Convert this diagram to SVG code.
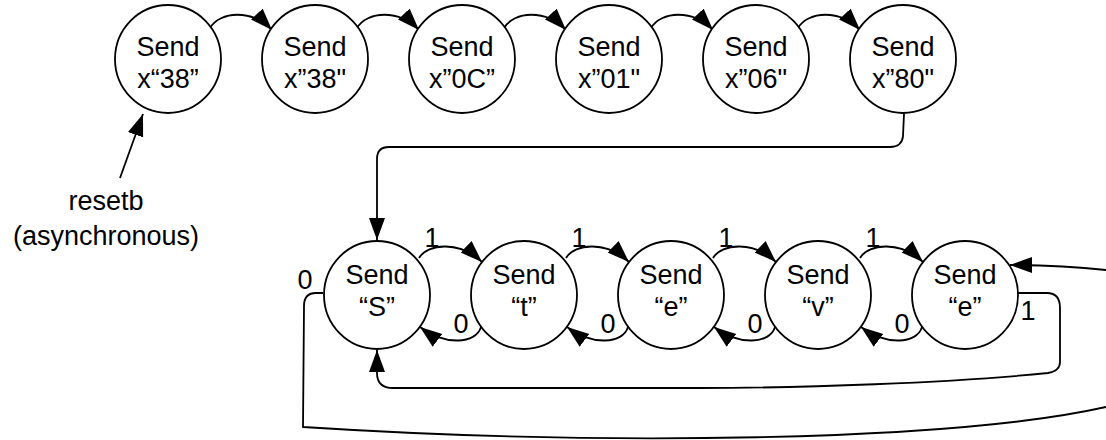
<svg xmlns="http://www.w3.org/2000/svg" width="1106" height="440" viewBox="0 0 1106 440">
<defs>
<marker id="arr" markerUnits="userSpaceOnUse" markerWidth="23" markerHeight="17" refX="22" refY="8" orient="auto">
<path d="M0,0 L22,8 L0,16 z" fill="#000"/>
</marker>
<style>
.st{fill:#fff;stroke:#000;stroke-width:1.8}
.t{font-family:"Liberation Sans",Arial,sans-serif;font-size:27px;fill:#000;text-anchor:middle}
.c{fill:none;stroke:#000;stroke-width:1.8}
.a{marker-end:url(#arr)}
</style>
</defs>
<rect width="1106" height="440" fill="#fff"/>
<g id="connectors">
<path class="c a" d="M210,28 C220,11 252,9 272,30"/>
<path class="c a" d="M357,28 C367,11 399,9 419,30"/>
<path class="c a" d="M504,28 C514,11 546,9 566,30"/>
<path class="c a" d="M651,28 C661,11 693,9 713,30"/>
<path class="c a" d="M798,28 C808,11 840,9 860,30"/>
<path class="c a" d="M120,178 L143,114"/>
<path class="c a" d="M904,114 L903,136 Q902,147 890,147 L389,147 Q377,147 377,159 L377,240"/>
<path class="c a" d="M419,258 C428,243 460,241 482,262"/>
<path class="c a" d="M566,258 C575,243 607,241 629,262"/>
<path class="c a" d="M713,258 C722,243 754,241 776,262"/>
<path class="c a" d="M860,258 C869,243 901,241 923,262"/>
<path class="c a" d="M481,327 C476,344 445,346 420,327"/>
<path class="c a" d="M628,327 C623,344 592,346 567,327"/>
<path class="c a" d="M775,327 C770,344 739,346 714,327"/>
<path class="c a" d="M922,327 C917,344 886,346 861,327"/>
<path class="c a" d="M1018,293 L1047,293 Q1060,293 1060,308 L1060,362 Q1060,371 1048,373 C950,383 800,388 700,388 L393,388 Q377,388 377,373 L377,350"/>
<path class="c a" d="M323,293 L316,293 Q304,293 304,306 L303,427 C600,446 950,442 1106,407 C1135,398 1140,300 1106,270 C1070,266 1040,265 1010,265"/>
</g>
<g class="t">
<text x="305" y="289">0</text>
<text x="432" y="247">1</text>
<text x="579" y="247">1</text>
<text x="726" y="247">1</text>
<text x="873" y="247">1</text>
<text x="461" y="333">0</text>
<text x="608" y="333">0</text>
<text x="755" y="333">0</text>
<text x="902" y="333">0</text>
<text x="1028" y="320">1</text>
</g>
<g id="reset">
<text class="t" x="106" y="210">resetb</text>
<text class="t" x="106" y="245">(asynchronous)</text>
</g>
<g id="n1"><ellipse class="st" cx="168" cy="59" rx="53" ry="54"/><text class="t" x="168" y="56">Send</text><text class="t" x="168" y="88">x“38”</text></g>
<g id="n2"><ellipse class="st" cx="315" cy="59" rx="53" ry="54"/><text class="t" x="315" y="56">Send</text><text class="t" x="315" y="88">x”38"</text></g>
<g id="n3"><ellipse class="st" cx="462" cy="59" rx="53" ry="54"/><text class="t" x="462" y="56">Send</text><text class="t" x="462" y="88">x”0C”</text></g>
<g id="n4"><ellipse class="st" cx="609" cy="59" rx="53" ry="54"/><text class="t" x="609" y="56">Send</text><text class="t" x="609" y="88">x”01"</text></g>
<g id="n5"><ellipse class="st" cx="756" cy="59" rx="53" ry="54"/><text class="t" x="756" y="56">Send</text><text class="t" x="756" y="88">x”06"</text></g>
<g id="n6"><ellipse class="st" cx="903" cy="59" rx="53" ry="54"/><text class="t" x="903" y="56">Send</text><text class="t" x="903" y="88">x”80"</text></g>
<g id="s1"><ellipse class="st" cx="377" cy="295" rx="53" ry="54"/><text class="t" x="377" y="284">Send</text><text class="t" x="377" y="316">“S”</text></g>
<g id="s2"><ellipse class="st" cx="524" cy="295" rx="53" ry="54"/><text class="t" x="524" y="284">Send</text><text class="t" x="524" y="316">“t”</text></g>
<g id="s3"><ellipse class="st" cx="671" cy="295" rx="53" ry="54"/><text class="t" x="671" y="284">Send</text><text class="t" x="671" y="316">“e”</text></g>
<g id="s4"><ellipse class="st" cx="818" cy="295" rx="53" ry="54"/><text class="t" x="818" y="284">Send</text><text class="t" x="818" y="316">“v”</text></g>
<g id="s5"><ellipse class="st" cx="965" cy="295" rx="53" ry="54"/><text class="t" x="965" y="284">Send</text><text class="t" x="965" y="316">“e”</text></g>
</svg>
